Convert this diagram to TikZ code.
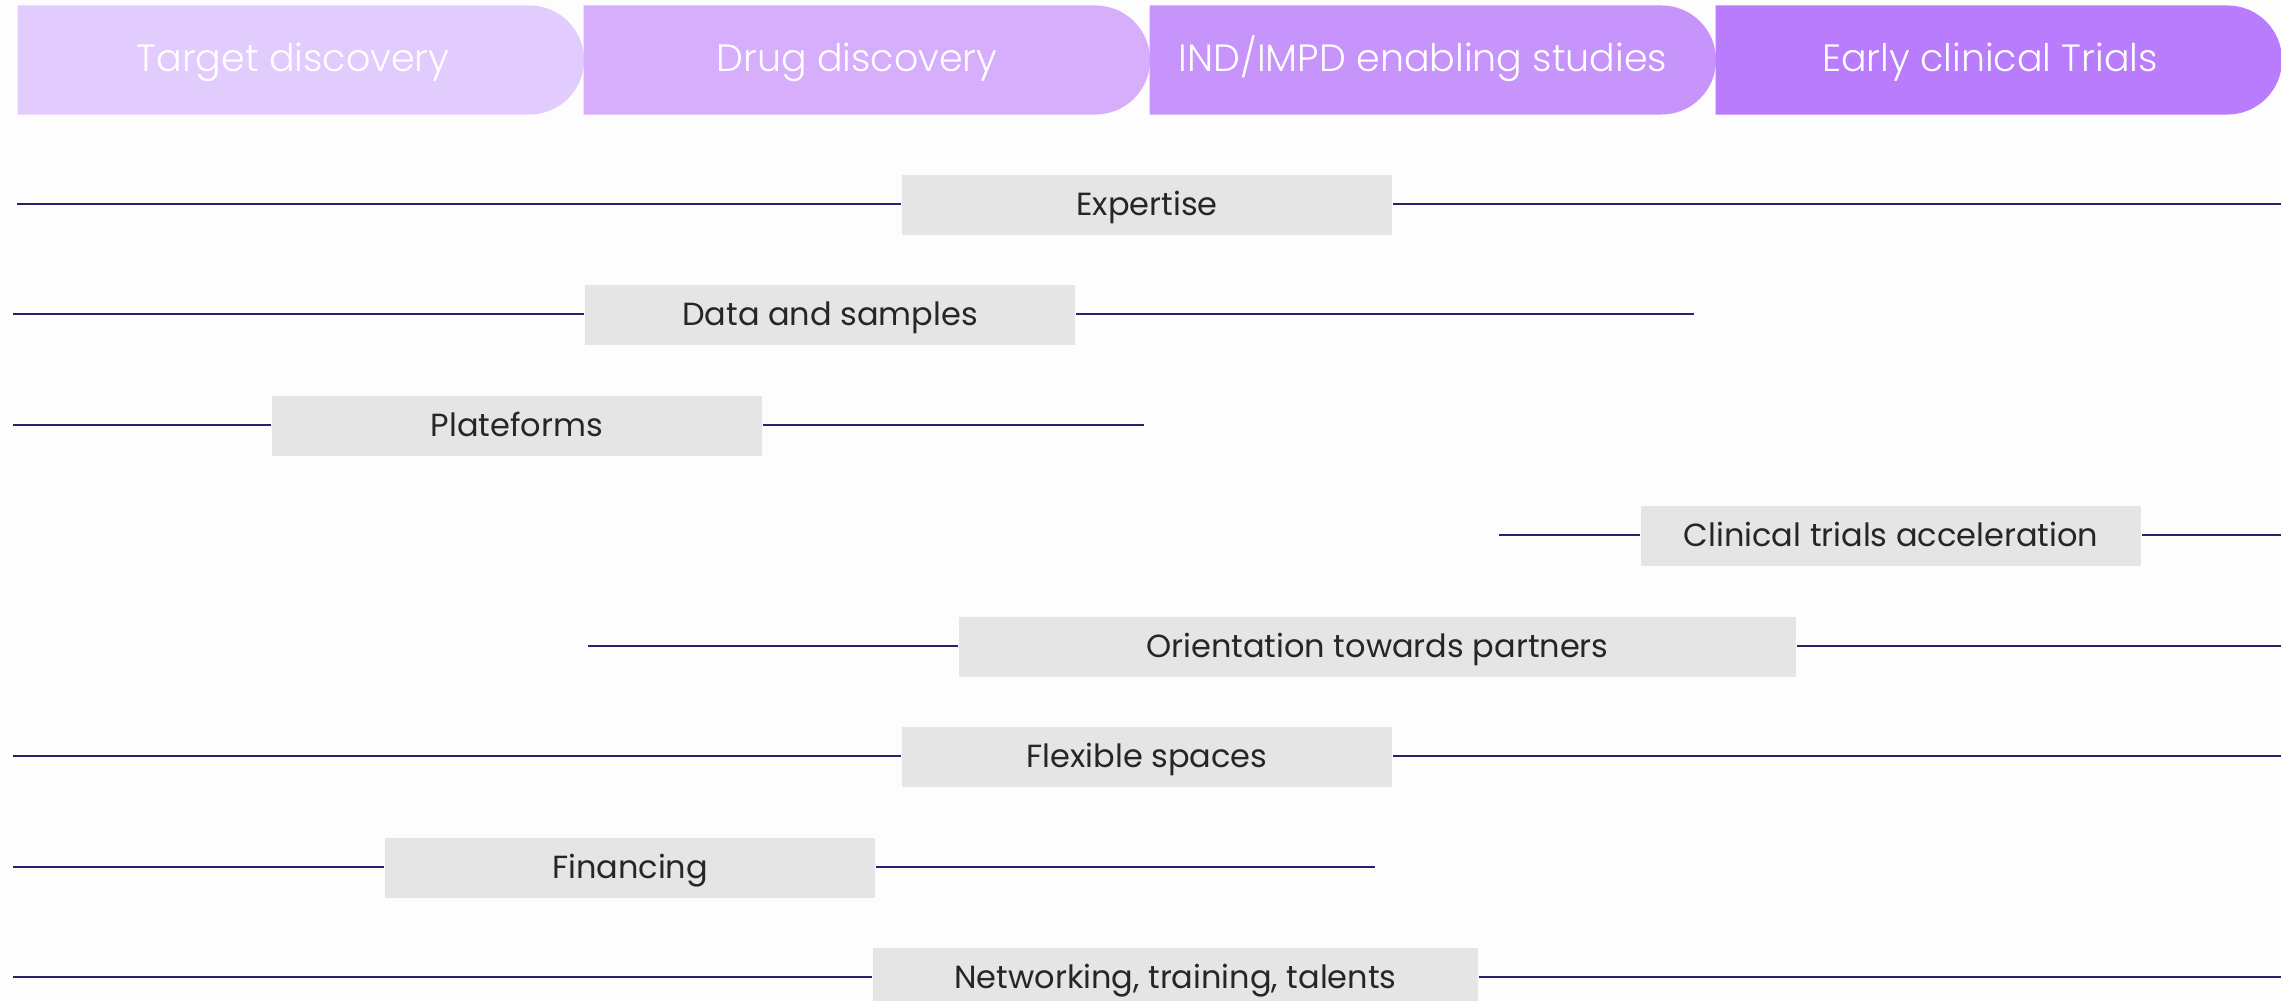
\documentclass[tikz,border=0pt]{standalone}
\usepackage{fontspec}
\setmainfont{Poppins}
\newfontfamily\poplight{Poppins Light}
\usetikzlibrary{shapes.misc}
\definecolor{bg}{RGB}{253,253,253}
\definecolor{ph1}{RGB}{226,204,254}
\definecolor{ph2}{RGB}{214,174,252}
\definecolor{ph3}{RGB}{199,148,252}
\definecolor{ph4}{RGB}{185,124,253}
\definecolor{boxgray}{RGB}{229,229,229}
\definecolor{textdark}{RGB}{38,38,38}
\definecolor{navy}{RGB}{40,33,110}
\begin{document}
\begin{tikzpicture}[x=0.01cm,y=-0.01cm,
  phase/.style={rounded rectangle, rounded rectangle west arc=none, minimum width=5.66cm, minimum height=1.09cm, inner sep=0pt, anchor=west},
  phasetext/.style={text=white, font=\poplight\fontsize{10.8}{12}\selectfont, inner sep=0pt, text height=8.6pt, text depth=2pt},
  item/.style={fill=boxgray, minimum height=0.59cm, inner sep=0pt, text=textdark, font=\fontsize{9.1}{10}\selectfont, text height=7.9pt, text depth=2pt},
  link/.style={draw=navy, line width=0.8pt}]
\useasboundingbox[fill=bg] (0,0) rectangle (2281,1001);
\clip (0,0) rectangle (2281,1001);
% phases
\node[phase, fill=ph1] (p1) at (17,60) {};
\node[phase, fill=ph2] (p2) at (583,60) {};
\node[phase, fill=ph3] (p3) at (1149,60) {};
\node[phase, fill=ph4] (p4) at (1715,60) {};
\node[phasetext] (t1) at (293,60) {Target discovery};
\node[phasetext] (t2) at (857,60) {Drug discovery};
\node[phasetext] (t3) at (1423,60) {IND/IMPD enabling studies};
\node[phasetext] (t4) at (1990,60) {Early clinical Trials};
% items
\node[item, minimum width=4.9cm] (b1) at (1147,205) {Expertise};
\node[item, minimum width=4.9cm] (b2) at (830,315) {Data and samples};
\node[item, minimum width=4.9cm] (b3) at (517,426) {Plateforms};
\node[item, minimum width=5.0cm] (b4) at (1891,536) {Clinical trials acceleration};
\node[item, minimum width=8.37cm] (b5) at (1377.5,647) {Orientation towards partners};
\node[item, minimum width=4.9cm] (b6) at (1147,757) {Flexible spaces};
\node[item, minimum width=4.9cm] (b7) at (630,868) {Financing};
\node[item, minimum width=6.05cm] (b8) at (1175.5,978) {Networking, training, talents};
% line ends
\coordinate (l1) at (17,204);   \coordinate (r1) at (2281,204);
\coordinate (l2) at (13,314);   \coordinate (r2) at (1694,314);
\coordinate (l3) at (13,425);   \coordinate (r3) at (1144,425);
\coordinate (l4) at (1499,535); \coordinate (r4) at (2281,535);
\coordinate (l5) at (588,646);  \coordinate (r5) at (2281,646);
\coordinate (l6) at (13,756);   \coordinate (r6) at (2281,756);
\coordinate (l7) at (13,867);   \coordinate (r7) at (1375,867);
\coordinate (l8) at (13,977);   \coordinate (r8) at (2281,977);
\foreach \i in {1,...,8}{
  \draw[link] (l\i) -- (l\i -| b\i.west);
  \draw[link] (r\i -| b\i.east) -- (r\i);
}
\end{tikzpicture}
\end{document}
